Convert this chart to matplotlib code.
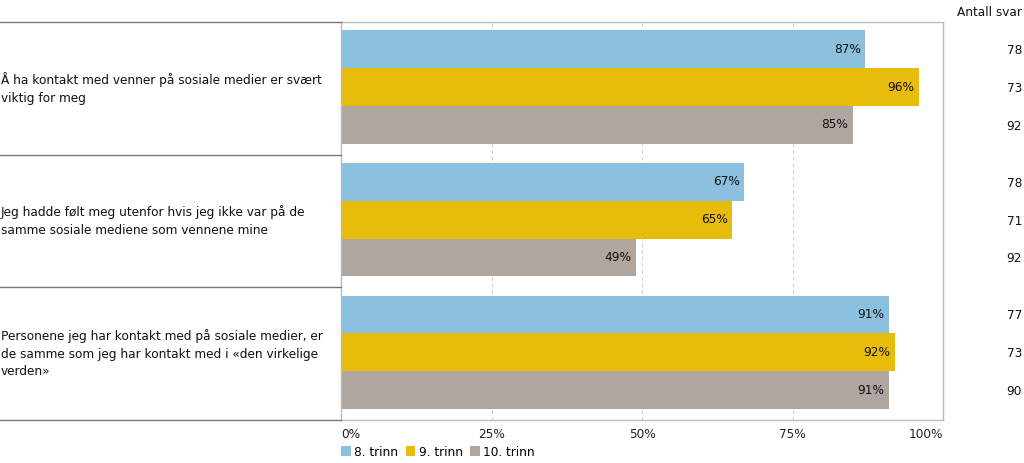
import matplotlib
matplotlib.use("Agg")
import matplotlib.pyplot as plt
import matplotlib.transforms as mtransforms
from matplotlib.patches import Patch
import numpy as np

# Data
statements = [
    "Å ha kontakt med venner på sosiale medier er svært\nviktig for meg",
    "Jeg hadde følt meg utenfor hvis jeg ikke var på de\nsamme sosiale mediene som vennene mine",
    "Personene jeg har kontakt med på sosiale medier, er\nde samme som jeg har kontakt med i «den virkelige\nverden»",
]
series_names = ["8. trinn", "9. trinn", "10. trinn"]
trinn8 = [87, 67, 91]
trinn9 = [96, 65, 92]
trinn10 = [85, 49, 91]
antall_svar = [[78, 73, 92], [78, 71, 92], [77, 73, 90]]
x_ticks = [0, 25, 50, 75, 100]
x_ticklabels = ["0%", "25%", "50%", "75%", "100%"]

colors = ["#8BC1DF", "#E8BC0A", "#AFA69F"]
FS = 8.7


def main():
    plt.rcParams["font.family"] = ["DejaVu Sans"]
    fig = plt.figure(figsize=(10.24, 4.63), dpi=100)
    ax = fig.add_axes([341 / 1024, 1 - 420 / 463, 602 / 1024, 398 / 463])

    bar_h = 0.285
    offsets = [-bar_h, 0, bar_h]
    values = [trinn8, trinn9, trinn10]
    y = np.arange(len(statements))

    # dashed grid
    for t in x_ticks[1:-1]:
        ax.axvline(t, color="#D0D0D0", lw=0.8, ls=(0, (3, 3)), zorder=0)

    for s, (vals, off, col) in enumerate(zip(values, offsets, colors)):
        ax.barh(y + off - 0.01, vals, height=bar_h, color=col, zorder=2)
        for yi, v in zip(y, vals):
            ax.text(v - 0.7, yi + off - 0.01, f"{v}%", ha="right", va="center",
                    fontsize=FS, color="#111111", zorder=3)

    ax.set_xlim(0, 100)
    ax.set_ylim(2.5, -0.5)
    ax.set_yticks([])
    ax.set_xticks(x_ticks)
    ax.set_xticklabels(x_ticklabels, fontsize=FS, color="#222222")
    tl = ax.get_xticklabels()
    tl[0].set_ha("left")
    tl[-1].set_ha("right")
    ax.tick_params(axis="x", length=0, pad=6)
    for sp in ax.spines.values():
        sp.set_color("#BBBBBB")
        sp.set_linewidth(1.0)

    # left label area with separator lines
    trans = mtransforms.blended_transform_factory(ax.transAxes, ax.transData)
    left_edge = -341 / 602
    for b in [-0.5, 0.5, 1.5, 2.5]:
        ax.plot([left_edge, 0], [b, b], transform=trans, color="#777777",
                lw=1.0, clip_on=False, zorder=5)
    for yi, lab in zip(y, statements):
        ax.text(left_edge + 1 / 602, yi, lab, transform=trans, ha="left",
                va="center", fontsize=FS, color="#111111", linespacing=1.45)

    # Antall svar column
    fig.text(1022 / 1024, 1 - 12 / 463, "Antall svar", ha="right", va="center",
             fontsize=FS, color="#111111")
    for yi, counts in zip(y, antall_svar):
        for off, c in zip(offsets, counts):
            ax.text(1 + 79 / 602, yi + off, str(c), transform=trans, ha="right",
                    va="center", fontsize=FS, color="#111111")

    handles = [Patch(facecolor=c, edgecolor="none") for c in colors]
    fig.legend(handles, series_names, loc="center left",
               bbox_to_anchor=(341 / 1024, 1 - 452 / 463), ncol=3,
               frameon=False, fontsize=FS, handlelength=0.8, handleheight=0.9,
               handletextpad=0.3, columnspacing=0.6, borderaxespad=0,
               borderpad=0)

    fig.savefig("out.png", dpi=100, facecolor="white")


if __name__ == "__main__":
    main()
